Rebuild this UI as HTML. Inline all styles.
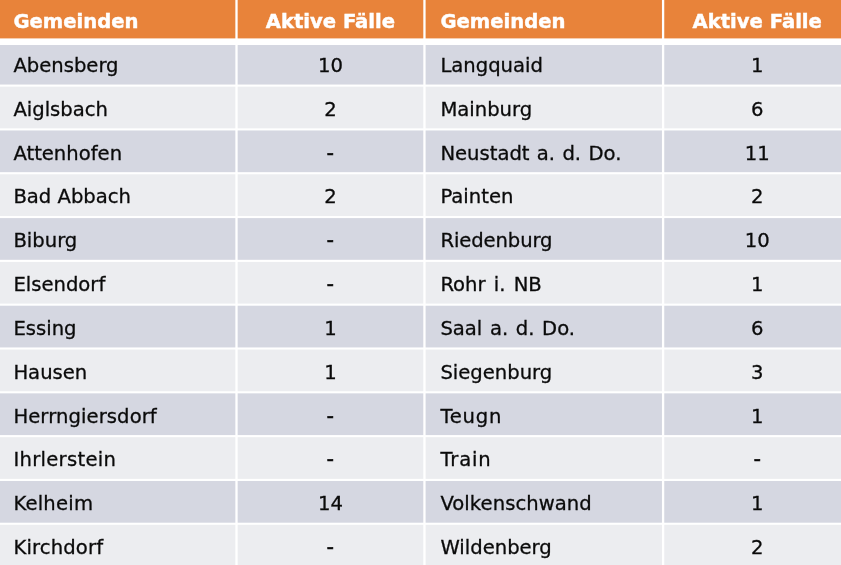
<!DOCTYPE html>
<html lang="de"><head><meta charset="utf-8"><title>Aktive Fälle nach Gemeinden</title>
<style>
html,body{margin:0;padding:0;background:#fff}
body{width:841px;height:565px;overflow:hidden;position:relative;font-family:"DejaVu Sans","Liberation Sans",sans-serif}
svg{position:absolute;left:0;top:0;display:block}
.h,.b{position:absolute;white-space:nowrap;height:40px;line-height:40px}
.h{font-weight:bold;font-size:19.6px;color:#fff;-webkit-text-stroke:0.45px #fff}
.b{font-size:19.6px;color:#0a0a0a;word-spacing:1.4px;-webkit-text-stroke:0.3px #0a0a0a}
.c{width:200px;text-align:center}
</style></head><body>
<svg width="841" height="565" viewBox="0 0 841 565">
<rect x="0" y="0" width="841" height="565" fill="#fff"/>
<rect x="0" y="0" width="841" height="38.4" fill="#E8833A"/>
<rect x="0" y="45.00" width="841" height="39.55" fill="#D5D7E1"/>
<rect x="0" y="86.65" width="841" height="41.71" fill="#ECEDF0"/>
<rect x="0" y="130.47" width="841" height="41.71" fill="#D5D7E1"/>
<rect x="0" y="174.28" width="841" height="41.71" fill="#ECEDF0"/>
<rect x="0" y="218.09" width="841" height="41.72" fill="#D5D7E1"/>
<rect x="0" y="261.91" width="841" height="41.71" fill="#ECEDF0"/>
<rect x="0" y="305.72" width="841" height="41.72" fill="#D5D7E1"/>
<rect x="0" y="349.54" width="841" height="41.71" fill="#ECEDF0"/>
<rect x="0" y="393.35" width="841" height="41.72" fill="#D5D7E1"/>
<rect x="0" y="437.17" width="841" height="41.71" fill="#ECEDF0"/>
<rect x="0" y="480.98" width="841" height="41.72" fill="#D5D7E1"/>
<rect x="0" y="524.80" width="841" height="40.20" fill="#ECEDF0"/>
<rect x="235.35" y="0" width="2.3" height="565" fill="#fff"/>
<rect x="423.30" y="0" width="2.3" height="565" fill="#fff"/>
<rect x="661.95" y="0" width="2.3" height="565" fill="#fff"/>
</svg>
<div class="h" style="left:13.40px;top:2px">Gemeinden</div>
<div class="h c" style="left:230.40px;top:2px">Aktive Fälle</div>
<div class="h" style="left:440.40px;top:2px">Gemeinden</div>
<div class="h c" style="left:657.20px;top:2px">Aktive Fälle</div>
<div class="b" style="left:13.40px;top:46px">Abensberg</div>
<div class="b c" style="left:230.40px;top:46px">10</div>
<div class="b" style="left:440.40px;top:46px">Langquaid</div>
<div class="b c" style="left:657.20px;top:46px">1</div>
<div class="b" style="left:13.40px;top:90px">Aiglsbach</div>
<div class="b c" style="left:230.40px;top:90px">2</div>
<div class="b" style="left:440.40px;top:90px">Mainburg</div>
<div class="b c" style="left:657.20px;top:90px">6</div>
<div class="b" style="left:13.40px;top:134px">Attenhofen</div>
<div class="b c" style="left:230.40px;top:134px;-webkit-text-stroke:0.7px #0a0a0a">-</div>
<div class="b" style="left:440.40px;top:134px;word-spacing:1.1px">Neustadt a. d. Do.</div>
<div class="b c" style="left:657.20px;top:134px">11</div>
<div class="b" style="left:13.40px;top:177px;word-spacing:0">Bad Abbach</div>
<div class="b c" style="left:230.40px;top:177px">2</div>
<div class="b" style="left:440.40px;top:177px">Painten</div>
<div class="b c" style="left:657.20px;top:177px">2</div>
<div class="b" style="left:13.40px;top:221px">Biburg</div>
<div class="b c" style="left:230.40px;top:221px;-webkit-text-stroke:0.7px #0a0a0a">-</div>
<div class="b" style="left:440.40px;top:221px;letter-spacing:-0.1px">Riedenburg</div>
<div class="b c" style="left:657.20px;top:221px">10</div>
<div class="b" style="left:13.40px;top:265px">Elsendorf</div>
<div class="b c" style="left:230.40px;top:265px;-webkit-text-stroke:0.7px #0a0a0a">-</div>
<div class="b" style="left:440.40px;top:265px;word-spacing:2px">Rohr i. NB</div>
<div class="b c" style="left:657.20px;top:265px">1</div>
<div class="b" style="left:13.40px;top:309px">Essing</div>
<div class="b c" style="left:230.40px;top:309px">1</div>
<div class="b" style="left:440.40px;top:309px">Saal a. d. Do.</div>
<div class="b c" style="left:657.20px;top:309px">6</div>
<div class="b" style="left:13.40px;top:353px">Hausen</div>
<div class="b c" style="left:230.40px;top:353px">1</div>
<div class="b" style="left:440.40px;top:353px">Siegenburg</div>
<div class="b c" style="left:657.20px;top:353px">3</div>
<div class="b" style="left:13.40px;top:397px;letter-spacing:0.09px">Herrngiersdorf</div>
<div class="b c" style="left:230.40px;top:397px;-webkit-text-stroke:0.7px #0a0a0a">-</div>
<div class="b" style="left:440.40px;top:397px;letter-spacing:0.75px">Teugn</div>
<div class="b c" style="left:657.20px;top:397px">1</div>
<div class="b" style="left:13.40px;top:440px;letter-spacing:0.29px">Ihrlerstein</div>
<div class="b c" style="left:230.40px;top:440px;-webkit-text-stroke:0.7px #0a0a0a">-</div>
<div class="b" style="left:440.40px;top:440px;letter-spacing:0.8px">Train</div>
<div class="b c" style="left:657.20px;top:440px;-webkit-text-stroke:0.7px #0a0a0a">-</div>
<div class="b" style="left:13.40px;top:484px;letter-spacing:0.2px">Kelheim</div>
<div class="b c" style="left:230.40px;top:484px">14</div>
<div class="b" style="left:440.40px;top:484px;letter-spacing:0.05px">Volkenschwand</div>
<div class="b c" style="left:657.20px;top:484px">1</div>
<div class="b" style="left:13.40px;top:528px;letter-spacing:0.15px">Kirchdorf</div>
<div class="b c" style="left:230.40px;top:528px;-webkit-text-stroke:0.7px #0a0a0a">-</div>
<div class="b" style="left:440.40px;top:528px">Wildenberg</div>
<div class="b c" style="left:657.20px;top:528px">2</div>
</body></html>
